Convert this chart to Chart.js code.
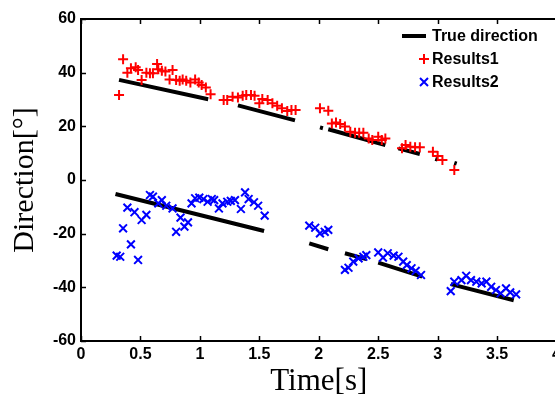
<!DOCTYPE html>
<html>
<head>
<meta charset="utf-8">
<script src="https://cdn.jsdelivr.net/npm/chart.js@4.4.1/dist/chart.umd.min.js"></script>
<style>
html, body { margin: 0; padding: 0; background: #fff; overflow: hidden; }
#wrap { width: 565px; height: 400px; position: relative; }
</style>
</head>
<body>
<div id="wrap"><canvas id="myChart"></canvas></div>
<script>

// true direction, null = gap between pieces
var trueTime = [0.32, 1.07, 1.07, 1.32, 1.80, 1.80, 2.01, 2.035, 2.035, 2.08, 2.56, 2.56, 2.67, 2.85, 2.85,
    2.98, 3.0, 3.0, 3.14, 3.16, 3.16,
    0.29, 1.54, 1.54, 1.92, 2.08, 2.08, 2.22, 2.40, 2.40, 2.50, 2.87, 2.87, 3.11, 3.64];
var trueDir = [37.3, 30.1, null, 27.8, 22.2, null, 19.6, 19.3, null, 18.9, 13.0, null, 11.8, 9.7, null,
    7.9, 7.6, null, 6.4, 6.1, null,
    -5.2, -19.0, null, -23.6, -25.8, null, -27.3, -29.5, null, -30.8, -36.0, null, -38.8, -44.8];

var r1Time = [0.32, 0.354, 0.39, 0.42, 0.46, 0.48, 0.51, 0.55, 0.58, 0.605,
    0.64, 0.65, 0.68, 0.71, 0.745, 0.77, 0.80, 0.83, 0.855, 0.885,
    0.92, 0.96, 0.99, 1.015, 1.05, 1.09,
    1.20, 1.23, 1.275, 1.32, 1.36, 1.39, 1.43, 1.46, 1.50, 1.525, 1.57, 1.61, 1.65, 1.69, 1.735, 1.77, 1.805,
    2.01, 2.08, 2.11, 2.145, 2.18, 2.22, 2.265, 2.305, 2.34, 2.375, 2.42, 2.45, 2.50, 2.53, 2.56,
    2.70, 2.73, 2.77, 2.81, 2.85, 2.96, 3.00, 3.04, 3.14];
var r1Dir = [31.7, 45.0, 40.0, 41.6, 42.0, 41.0, 37.3, 40.0, 39.8, 39.8,
    43.2, 41.3, 40.7, 40.4, 37.5, 41.0, 37.3, 37.0, 37.5, 37.0,
    36.3, 37.5, 36.3, 35.4, 34.5, 32.0,
    29.8, 29.8, 31.0, 30.7, 31.4, 31.7, 31.7, 31.4, 28.6, 30.2, 29.8, 28.6, 27.7, 26.7, 25.7, 26.1, 26.1,
    26.7, 25.8, 21.1, 21.4, 20.9, 19.9, 18.0, 17.6, 17.6, 17.6, 15.5, 14.9, 16.1, 14.9, 15.5,
    11.8, 13.0, 12.4, 12.2, 12.2, 10.5, 8.9, 7.5, 3.7];

var r2Time = [0.30, 0.33, 0.354, 0.39, 0.42, 0.45, 0.48, 0.51, 0.55, 0.58,
    0.605, 0.65, 0.68, 0.717, 0.77, 0.80, 0.837, 0.87, 0.90, 0.93,
    0.96, 0.995, 1.03, 1.065, 1.10,
    1.12, 1.16, 1.19, 1.23, 1.26, 1.295, 1.345, 1.38, 1.41, 1.455, 1.49, 1.545,
    1.92, 1.97, 2.01, 2.05, 2.08,
    2.22, 2.25, 2.29, 2.335, 2.375, 2.40, 2.50, 2.54, 2.58, 2.63, 2.67, 2.71, 2.74, 2.78, 2.815, 2.86,
    3.11, 3.14, 3.20, 3.24, 3.28, 3.325, 3.37, 3.41, 3.45, 3.49, 3.53, 3.575, 3.61, 3.66];
var r2Dir = [-28.2, -28.6, -18.0, -10.3, -24.0, -12.0, -29.8, -14.9, -13.0, -5.6,
    -6.2, -8.7, -7.5, -9.6, -10.6, -19.3, -14.0, -17.4, -15.8, -8.7,
    -6.8, -6.6, -7.1, -8.1, -7.1,
    -7.5, -10.6, -8.7, -8.1, -7.8, -7.5, -10.8, -4.6, -7.1, -8.3, -9.6, -13.3,
    -17.0, -17.8, -19.9, -19.3, -18.6,
    -33.5, -32.7, -30.4, -29.2, -28.6, -28.0, -27.0, -28.9, -27.3, -28.2, -28.6, -30.4, -31.7, -32.9, -33.9, -35.4,
    -41.4, -37.9, -37.3, -35.7, -37.3, -37.9, -38.5, -37.9, -39.8, -41.0, -42.2, -40.4, -41.9, -42.6];

var seriesNames = ['True direction', 'Results1', 'Results2'];

function pairs(xs, ys) {
    return xs.map(function (x, i) { return { x: x, y: ys[i] }; });
}

// box top edge, inward ticks and the legend
var boxPlugin = {
    id: 'box',
    afterDraw: function (chart) {
        var ctx = chart.ctx;
        var a = chart.chartArea;
        var xs = chart.scales.x, ys = chart.scales.y;
        ctx.save();
        ctx.strokeStyle = '#000';
        ctx.lineWidth = 2;
        ctx.beginPath();
        ctx.moveTo(a.left, a.top);
        ctx.lineTo(a.right, a.top);
        ctx.stroke();

        ctx.lineWidth = 1.5;
        ctx.beginPath();
        xs.ticks.forEach(function (t) {
            var px = Math.round(xs.getPixelForValue(t.value)) + 0.5;
            ctx.moveTo(px, a.bottom); ctx.lineTo(px, a.bottom - 5);
            ctx.moveTo(px, a.top); ctx.lineTo(px, a.top + 5);
        });
        ys.ticks.forEach(function (t) {
            var py = Math.round(ys.getPixelForValue(t.value)) + 0.5;
            ctx.moveTo(a.left, py); ctx.lineTo(a.left + 5, py);
        });
        ctx.stroke();

        // legend
        var tx = 432;
        ctx.font = 'bold 16px "Liberation Sans", Arial, sans-serif';
        ctx.fillStyle = '#000';
        ctx.textBaseline = 'middle';
        ctx.textAlign = 'left';

        ctx.lineWidth = 4;
        ctx.beginPath();
        ctx.moveTo(402, 36); ctx.lineTo(426, 36);
        ctx.stroke();
        ctx.fillText(seriesNames[0], tx, 37);

        ctx.strokeStyle = '#ff0000';
        ctx.lineWidth = 2;
        ctx.beginPath();
        ctx.moveTo(419, 59); ctx.lineTo(429, 59);
        ctx.moveTo(424, 54); ctx.lineTo(424, 64);
        ctx.stroke();
        ctx.fillText(seriesNames[1], tx, 60);

        ctx.strokeStyle = '#0000ff';
        ctx.beginPath();
        ctx.moveTo(420, 78); ctx.lineTo(428, 86);
        ctx.moveTo(428, 78); ctx.lineTo(420, 86);
        ctx.stroke();
        ctx.fillText(seriesNames[2], tx, 83);
        ctx.restore();
    }
};

function DrawChart() {
    var ctx = document.getElementById('myChart').getContext('2d');

    var myChart = new Chart(ctx, {
        type: 'scatter',
        data: {
            datasets: [{
                label: seriesNames[1],
                data: pairs(r1Time, r1Dir),
                pointStyle: 'cross',
                pointRadius: 5,
                pointBorderWidth: 2,
                borderColor: '#ff0000',
                backgroundColor: '#ff0000'
            }, {
                label: seriesNames[2],
                data: pairs(r2Time, r2Dir),
                pointStyle: 'crossRot',
                pointRadius: 5.5,
                pointBorderWidth: 2,
                borderColor: '#0000ff',
                backgroundColor: '#0000ff'
            }, {
                label: seriesNames[0],
                data: pairs(trueTime, trueDir),
                showLine: true,
                spanGaps: false,
                pointRadius: 0,
                borderWidth: 4,
                borderColor: '#000',
                borderCapStyle: 'butt',
                backgroundColor: '#000'
            }]
        },
        options: {
            responsive: true,
            maintainAspectRatio: false,
            animation: false,
            layout: { padding: { left: 0, right: 6, top: 19, bottom: 0 } },
            plugins: {
                legend: { display: false },
                tooltip: { enabled: false }
            },
            scales: {
                x: {
                    type: 'linear',
                    min: 0,
                    max: 4,
                    afterFit: function (scale) { scale.height = 59; },
                    grid: { display: false, drawTicks: false },
                    border: { display: true, color: '#000', width: 2 },
                    ticks: {
                        stepSize: 0.5,
                        padding: 4,
                        color: '#000',
                        maxRotation: 0,
                        callback: function (v) { return String(v); },
                        font: { family: '"Liberation Sans", Arial, sans-serif', size: 16, weight: 'bold' }
                    },
                    title: {
                        display: true,
                        text: 'Time[s]',
                        color: '#000',
                        padding: 0,
                        font: { family: '"Liberation Serif", "Times New Roman", serif', size: 31 }
                    }
                },
                y: {
                    min: -60,
                    max: 60,
                    afterFit: function (scale) { scale.width = 81; },
                    grid: { display: false, drawTicks: false },
                    border: { display: true, color: '#000', width: 2 },
                    ticks: {
                        stepSize: 20,
                        padding: 5,
                        color: '#000',
                        callback: function (v) { return String(v); },
                        font: { family: '"Liberation Sans", Arial, sans-serif', size: 16, weight: 'bold' }
                    },
                    title: {
                        display: true,
                        text: 'Direction[°]',
                        color: '#000',
                        padding: { top: 7, bottom: 0 },
                        font: { family: '"Liberation Serif", "Times New Roman", serif', size: 30 }
                    }
                }
            }
        },
        plugins: [boxPlugin]
    });
}

DrawChart();
</script>
</body>
</html>
